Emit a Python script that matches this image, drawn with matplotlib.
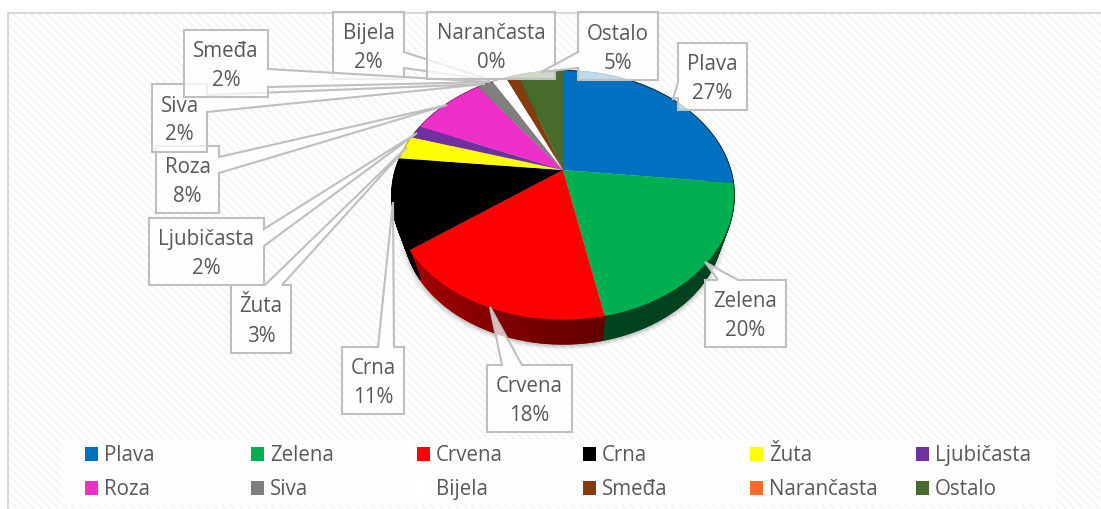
import matplotlib
matplotlib.use("Agg")
import matplotlib.pyplot as plt
from matplotlib.patches import Polygon, Rectangle
import numpy as np

plt.rcParams["font.family"] = ["Open Sans", "DejaVu Sans"]

# Slice data (the printed labels are rounded differently)
categories = ["Plava", "Zelena", "Crvena", "Crna", "Žuta", "Ljubičasta",
              "Roza", "Siva", "Bijela", "Smeđa", "Narančasta", "Ostalo"]
shares = [26.7, 20.1, 18.1, 11.7, 3.1, 1.7, 8.6, 1.8, 1.6, 1.4, 0.0, 5.2]
pct_labels = ["27%", "20%", "18%", "11%", "3%", "2%", "8%", "2%", "2%", "2%", "0%", "5%"]
colors = ["#0070C0", "#00B050", "#FF0000", "#000000", "#FFFF00", "#7030A0",
          "#EC30C8", "#7F7F7F", "#FFFFFF", "#843C0C", "#FF6A28", "#466B2B"]

# Callout layout in pixels: box (x0, y0, x1, y1), pointer (base a, tip, base b)
boxes = [(678, 43, 747, 110), (705, 280, 786, 347), (487, 365, 572, 432),
         (342, 347, 404, 414), (231, 285, 291, 353), (149, 218, 264, 285),
         (156, 146, 219, 213), (152, 84, 207, 152), (333, 12, 404, 79),
         (184, 30, 268, 97), (427, 12, 555, 79), (578, 12, 658, 80)]
pointers = [
    ("left", (678, 82), (673, 99), (678, 98)),
    ("top", (718, 280), (705, 262), (738, 280)),
    ("top", (502, 365), (490, 307), (522, 365)),
    ("top", (378, 347), (393, 202), (394, 347)),
    ("top", (265, 285), (407, 147), (282, 285)),
    ("right", (264, 229), (417, 133), (264, 246)),
    ("right", (219, 157), (447, 105), (219, 173)),
    ("right", (207, 95), (485, 84), (207, 112)),
    ("right", (404, 52), (490, 80), (404, 68)),
    ("right", (268, 69), (490, 82), (268, 87)),
    None,
    ("left", (578, 52), (541, 72), (578, 68)),
]

legend_x = [85, 251, 417, 583, 750, 916]
legend_y = [461, 495]

APEX_X, APEX_Y = 563, 170
R, A, B = 167.4, 119.2, 0.204
DEPTH_SCALE, DEPTH_DY = 0.93, 34.5


def project(theta_deg):
    # tilted disc: clockwise angle from 12 o'clock -> offset from the apex
    t = np.radians(theta_deg)
    x, y = np.sin(t), np.cos(t)
    w = 1 + B * y
    return R * x / w, -A * y / w


def top_face(theta_deg):
    dx, dy = project(theta_deg)
    return APEX_X + dx, APEX_Y + dy


def bottom_face(theta_deg):
    dx, dy = project(theta_deg)
    return APEX_X + DEPTH_SCALE * dx, APEX_Y + DEPTH_SCALE * dy + DEPTH_DY


fig = plt.figure(figsize=(11.01, 5.09), dpi=100)
ax = fig.add_axes([0, 0, 1, 1])
ax.set_xlim(0, 1101)
ax.set_ylim(509, 0)
ax.axis("off")

# Chart area with faint stripes
plt.rcParams["hatch.linewidth"] = 1.8
ax.add_patch(Rectangle((8, 13), 1100, 500, facecolor="white", edgecolor="#F6F6F6",
                       hatch="\\\\\\\\", linewidth=0, zorder=0))
ax.plot([8, 8, 1101], [509, 13, 13], color="#D9D9D9", lw=1.5, zorder=1)

# Soft shadow under the pie
circle = np.linspace(0, 360, 240)
sx, sy = bottom_face(circle)
for grow, alpha in zip([1.035, 1.025, 1.015, 1.008], [0.03, 0.04, 0.05, 0.07]):
    cx, cy = APEX_X, APEX_Y + 58
    ax.add_patch(Polygon(np.c_[cx + (sx - cx) * grow, cy + (sy - cy) * grow + 2],
                         facecolor="black", alpha=alpha, edgecolor="none", zorder=2))

# Slices
edges = np.cumsum([0] + shares) / sum(shares) * 360
for start, stop, col in zip(edges[:-1], edges[1:], colors):
    if stop <= start:
        continue
    angles = np.linspace(start, stop, max(3, int((stop - start) * 2)))
    base = np.array(matplotlib.colors.to_rgb(col))
    # side wall, shaded along the rim
    for a0, a1 in zip(angles[:-1], angles[1:]):
        shade = np.clip(0.38 + (a0 - 168) / 65 * 0.27, 0.38, 0.65)
        tx, ty = top_face(np.array([a0, a1]))
        bx, by = bottom_face(np.array([a1, a0]))
        ax.add_patch(Polygon(np.c_[np.r_[tx, bx], np.r_[ty, by]], facecolor=base * shade,
                             edgecolor=base * shade, linewidth=1.2, zorder=3))

for start, stop, col in zip(edges[:-1], edges[1:], colors):
    if stop <= start:
        continue
    angles = np.linspace(start, stop, max(3, int((stop - start) * 2)))
    tx, ty = top_face(angles)
    ax.add_patch(Polygon(np.c_[np.r_[APEX_X, tx], np.r_[APEX_Y, ty]], facecolor=col,
                         edgecolor="none", zorder=4))

# Data label callouts, drawn in series order
for i, (name, pct, box, ptr) in enumerate(zip(categories, pct_labels, boxes, pointers)):
    x0, y0, x1, y1 = box
    verts = {"top": [], "right": [], "bottom": [], "left": []}
    if ptr is not None:
        verts[ptr[0]] = list(ptr[1:])
    outline = ([(x0, y0)] + verts["top"] + [(x1, y0)] + verts["right"]
               + [(x1, y1), (x0, y1)] + verts["left"][::-1])
    ax.add_patch(Polygon(outline, closed=True, facecolor=(1, 1, 1, 0.75),
                         edgecolor="#BFBFBF", linewidth=1.5, joinstyle="miter", zorder=5 + i * 0.01))
    xc, yc = (x0 + x1) / 2, (y0 + y1) / 2
    ax.text(xc, yc - 6.5, name, ha="center", va="baseline", fontsize=14.8, color="#595959", zorder=6)
    ax.text(xc, yc + 22.5, pct, ha="center", va="baseline", fontsize=14.8, color="#595959", zorder=6)

# Legend
ax.add_patch(Rectangle((61, 439), 996, 66, facecolor=(1, 1, 1, 0.8), edgecolor="none", zorder=5))
for i, (name, col) in enumerate(zip(categories, colors)):
    x = legend_x[i % 6]
    y = legend_y[i // 6]
    ax.add_patch(Rectangle((x, y - 14), 13, 14, facecolor=col, edgecolor="none", zorder=6))
    ax.text(x + 19, y, name, ha="left", va="baseline", fontsize=14.8, color="#595959", zorder=6)

fig.savefig("out.png", dpi=100)
